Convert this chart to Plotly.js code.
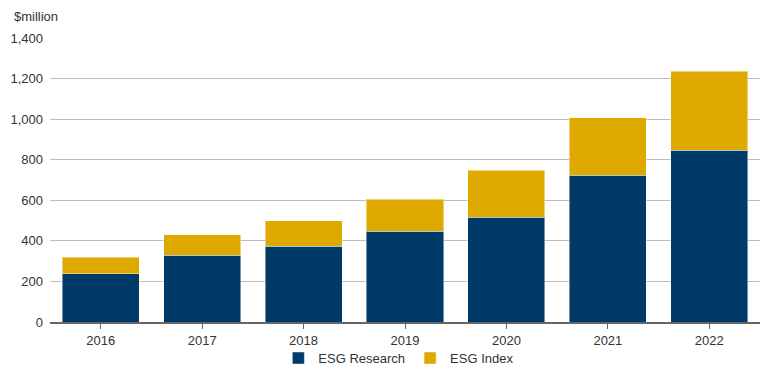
<!DOCTYPE html>
<html>
<head>
<meta charset="utf-8">
<script src="https://cdn.plot.ly/plotly-3.0.1.min.js"></script>
<style>html,body{margin:0;padding:0;background:#fff;}#chart{width:770px;height:373px;}</style>
</head>
<body>
<div id="chart"></div>
<script>
const years = ['2016','2017','2018','2019','2020','2021','2022'];
const esgResearch = [237, 328, 373, 448, 517, 724, 846];
const esgIndex = [81, 102, 125, 158, 232, 284, 391];
const yTicks = [0, 200, 400, 600, 800, 1000, 1200, 1400];

const traces = [
  {type:'bar', name:'ESG Research', x:years, y:esgResearch,
   marker:{color:'#003A69', line:{color:'rgba(255,255,255,0.45)', width:1}}},
  {type:'bar', name:'ESG Index', x:years, y:esgIndex,
   marker:{color:'#DEAA00', line:{color:'rgba(255,255,255,0.45)', width:1}}}
];

const layout = {
  width:770, height:373,
  margin:{l:50, r:10, t:38, b:51},
  barmode:'stack', bargap:0.24,
  font:{family:'"Liberation Sans", Arial, sans-serif', size:13, color:'#333'},
  paper_bgcolor:'#fff', plot_bgcolor:'#fff',
  xaxis:{type:'category', showline:true, linecolor:'#666', linewidth:2,
         ticks:'outside', ticklen:5, tickcolor:'#666', tickwidth:1,
         showgrid:false, tickfont:{size:13, color:'#333'}},
  yaxis:{range:[0,1400], tickvals:yTicks, tickformat:',d', showgrid:true,
         gridcolor:'#bdbdbd', gridwidth:1, zeroline:false, ticks:'',
         ticklabelstandoff:6, tickfont:{size:13, color:'#333'}},
  showlegend:true,
  legend:{orientation:'h', xref:'container', yref:'container',
          x:0.518, xanchor:'center', y:0.04, yanchor:'middle',
          bgcolor:'rgba(0,0,0,0)',
          font:{size:13, color:'#333'}, traceorder:'normal', tracegroupgap:0,
          itemwidth:30},
  annotations:[{text:'$million', xref:'paper', yref:'paper', x:-0.053, y:1.074,
    xanchor:'left', yanchor:'middle', showarrow:false, font:{size:13, color:'#333'}}]
};

Plotly.newPlot('chart', traces, layout, {displayModeBar:false, staticPlot:true});
</script>
</body>
</html>
